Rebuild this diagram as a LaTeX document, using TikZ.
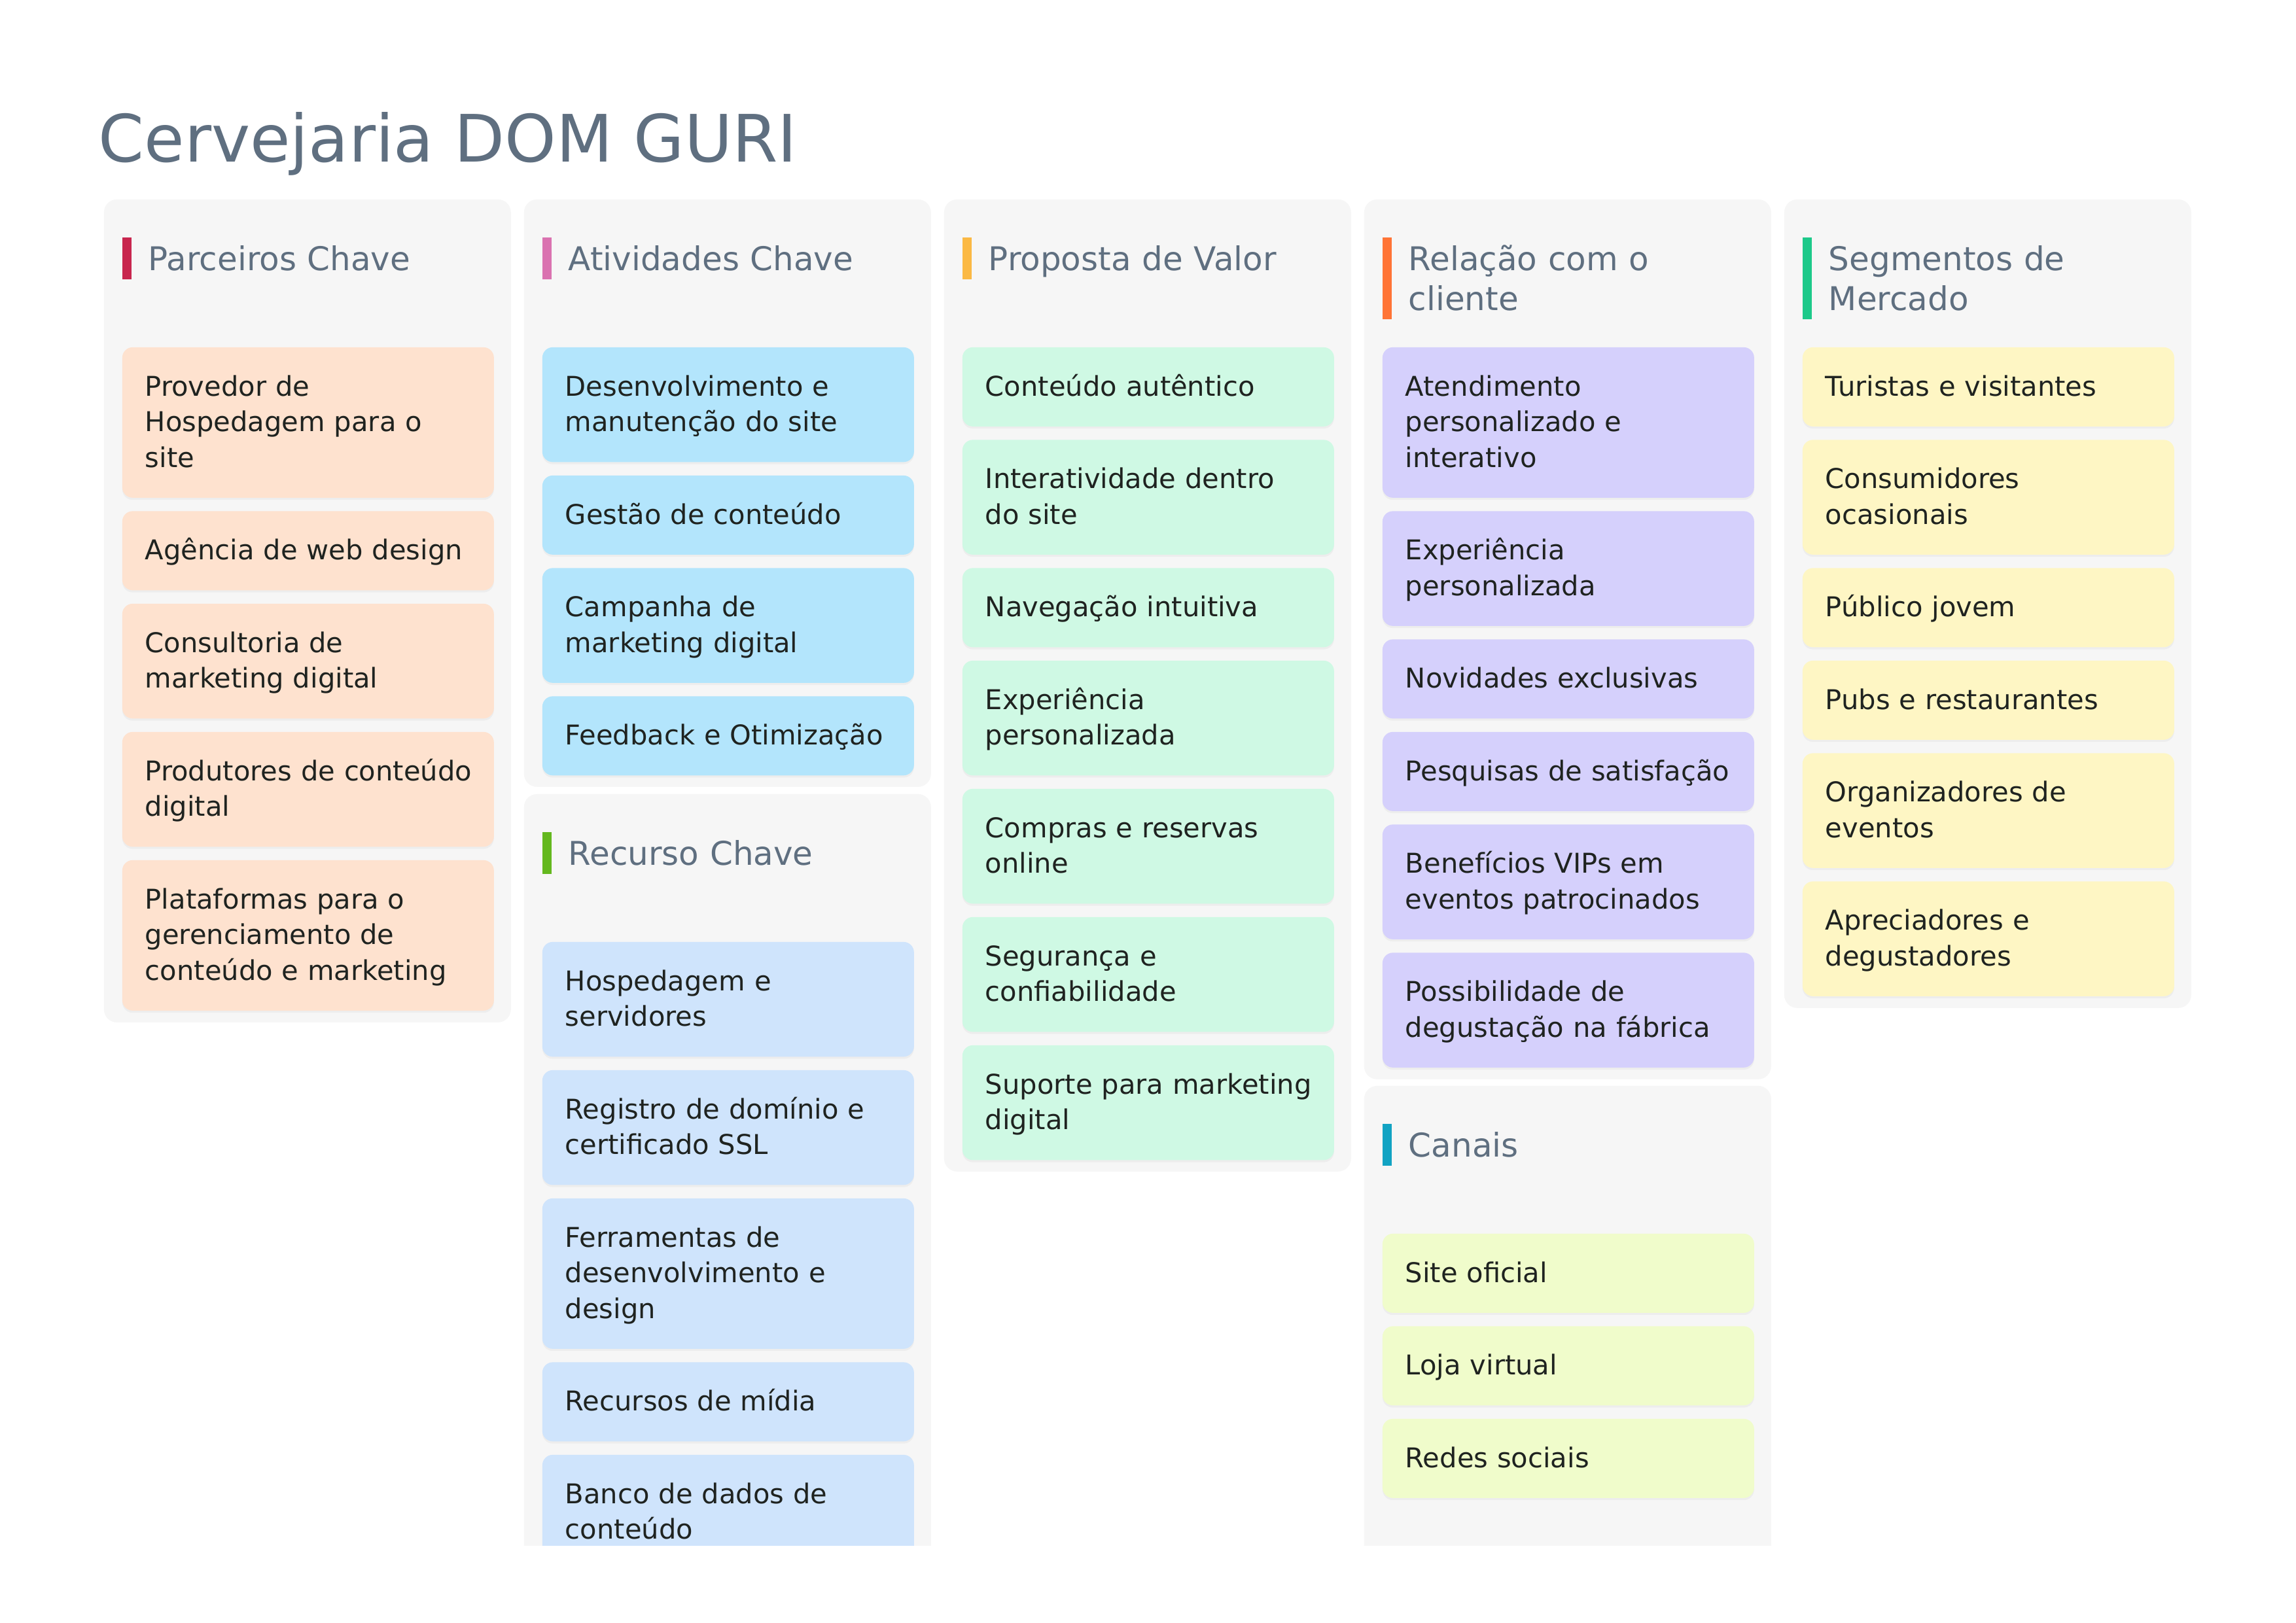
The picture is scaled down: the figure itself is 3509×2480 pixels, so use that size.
\documentclass[tikz,border=0pt]{standalone}
\usepackage{fontspec}
\setmainfont{DejaVu Sans}
\usetikzlibrary{shadows}
\definecolor{slate}{HTML}{5F6F80}
\definecolor{ink}{HTML}{1F2320}
\definecolor{panelbg}{HTML}{F6F6F6}
\definecolor{cPar}{HTML}{FEE2CF}
\definecolor{cAti}{HTML}{B3E5FC}
\definecolor{cRec}{HTML}{CFE4FC}
\definecolor{cPro}{HTML}{CFF9E4}
\definecolor{cRel}{HTML}{D5D0FC}
\definecolor{cCan}{HTML}{F0FCCB}
\definecolor{cSeg}{HTML}{FEF6C4}
\definecolor{bPar}{HTML}{C8264E}
\definecolor{bAti}{HTML}{DA72B0}
\definecolor{bPro}{HTML}{FBB944}
\definecolor{bRel}{HTML}{FF7436}
\definecolor{bSeg}{HTML}{1DC98A}
\definecolor{bRec}{HTML}{64B81E}
\definecolor{bCan}{HTML}{12A3C3}
\tikzset{
  panel/.style={fill=panelbg, rounded corners=4.8pt, minimum width=149.28pt, anchor=north west, inner sep=0pt, draw=none},
  cardbox/.style={rounded corners=3.84pt, minimum width=136.32pt, inner sep=0pt, anchor=north west,
    drop shadow={shadow xshift=0pt, shadow yshift=-0.8pt, opacity=0.07}},
  cardtext/.style={anchor=base west, inner sep=0pt, text width=128pt, align=left, text=ink,
    font=\fontsize{10pt}{13.08pt}\selectfont},
  headtext/.style={anchor=base west, inner sep=0pt, text width=128pt, align=left, text=slate,
    font=\fontsize{12pt}{14.64pt}\selectfont},
  headbar/.style={inner sep=0pt, minimum width=3.3pt, anchor=north west, draw=none},
  titletext/.style={anchor=base west, inner sep=0pt, text=slate, font=\fontsize{24pt}{28pt}\selectfont},
}
\newcommand\colstart[2]{\xdef\mycolx{#1}\xdef\mycy{#2}}
\newcommand\addcard[4]{%
  \pgfmathsetmacro\cardh{66.5+54.5*#2}%
  \pgfmathsetmacro\cardx{\mycolx+28}%
  \node[cardbox, fill=#3, minimum height=\cardh*0.24pt] (#1) at (\cardx,\mycy) {};
  \node[cardtext] (#1-t) at (\cardx+35,\mycy+75) {#4};
  \pgfmathsetmacro\cynew{\mycy+\cardh+20.5}%
  \xdef\mycy{\cynew}%
}
\newcommand\addpanel[7]{%
  \node[panel, minimum height=#4*0.24pt] (#1) at (#2,#3) {};
  \pgfmathsetmacro\barh{64+61*(#6-1)}%
  \node[headbar, fill=#5, minimum height=\barh*0.24pt] (#1-bar) at (#2+28,#3+58) {};
  \node[headtext] (#1-head) at (#2+68,#3+109) {#7};
}
\begin{document}
\begin{tikzpicture}[x=0.24pt,y=-0.24pt]
\useasboundingbox (0,0) rectangle (3509,2480);
\fill[white] (0,0) rectangle (3509,2480);
\node[titletext] (title) at (150,247) {Cervejaria DOM GURI};
\begin{scope}
\clip (0,0) rectangle (3509,2362);
% Column 1
\addpanel{p1}{158}{304}{1258}{bPar}{1}{Parceiros Chave}
\colstart{158}{530}
\addcard{par1}{3}{cPar}{Provedor de\\Hospedagem para o\\site}
\addcard{par2}{1}{cPar}{Agência de web design}
\addcard{par3}{2}{cPar}{Consultoria de\\marketing digital}
\addcard{par4}{2}{cPar}{Produtores de conteúdo\\digital}
\addcard{par5}{3}{cPar}{Plataformas para o\\gerenciamento de\\conteúdo e marketing}
% Column 2
\addpanel{p2}{800}{304}{898}{bAti}{1}{Atividades Chave}
\colstart{800}{530}
\addcard{ati1}{2}{cAti}{Desenvolvimento e\\manutenção do site}
\addcard{ati2}{1}{cAti}{Gestão de conteúdo}
\addcard{ati3}{2}{cAti}{Campanha de\\marketing digital}
\addcard{ati4}{1}{cAti}{Feedback e Otimização}
\addpanel{p2b}{800}{1213}{1300}{bRec}{1}{Recurso Chave}
\colstart{800}{1439}
\addcard{rec1}{2}{cRec}{Hospedagem e\\servidores}
\addcard{rec2}{2}{cRec}{Registro de domínio e\\certificado SSL}
\addcard{rec3}{3}{cRec}{Ferramentas de\\desenvolvimento e\\design}
\addcard{rec4}{1}{cRec}{Recursos de mídia}
\addcard{rec5}{2}{cRec}{Banco de dados de\\conteúdo}
% Column 3
\addpanel{p3}{1442}{304}{1486}{bPro}{1}{Proposta de Valor}
\colstart{1442}{530}
\addcard{pro1}{1}{cPro}{Conteúdo autêntico}
\addcard{pro2}{2}{cPro}{Interatividade dentro\\do site}
\addcard{pro3}{1}{cPro}{Navegação intuitiva}
\addcard{pro4}{2}{cPro}{Experiência\\personalizada}
\addcard{pro5}{2}{cPro}{Compras e reservas\\online}
\addcard{pro6}{2}{cPro}{Segurança e\\confiabilidade}
\addcard{pro7}{2}{cPro}{Suporte para marketing\\digital}
% Column 4
\addpanel{p4}{2084}{304}{1345}{bRel}{2}{Relação com o\\cliente}
\colstart{2084}{530}
\addcard{rel1}{3}{cRel}{Atendimento\\personalizado e\\interativo}
\addcard{rel2}{2}{cRel}{Experiência\\personalizada}
\addcard{rel3}{1}{cRel}{Novidades exclusivas}
\addcard{rel4}{1}{cRel}{Pesquisas de satisfação}
\addcard{rel5}{2}{cRel}{Benefícios VIPs em\\eventos patrocinados}
\addcard{rel6}{2}{cRel}{Possibilidade de\\degustação na fábrica}
\addpanel{p4b}{2084}{1659}{1300}{bCan}{1}{Canais}
\colstart{2084}{1885}
\addcard{can1}{1}{cCan}{Site oficial}
\addcard{can2}{1}{cCan}{Loja virtual}
\addcard{can3}{1}{cCan}{Redes sociais}
% Column 5
\addpanel{p5}{2726}{304}{1236}{bSeg}{2}{Segmentos de\\Mercado}
\colstart{2726}{530}
\addcard{seg1}{1}{cSeg}{Turistas e visitantes}
\addcard{seg2}{2}{cSeg}{Consumidores\\ocasionais}
\addcard{seg3}{1}{cSeg}{Público jovem}
\addcard{seg4}{1}{cSeg}{Pubs e restaurantes}
\addcard{seg5}{2}{cSeg}{Organizadores de\\eventos}
\addcard{seg6}{2}{cSeg}{Apreciadores e\\degustadores}
\end{scope}
\end{tikzpicture}
\end{document}
